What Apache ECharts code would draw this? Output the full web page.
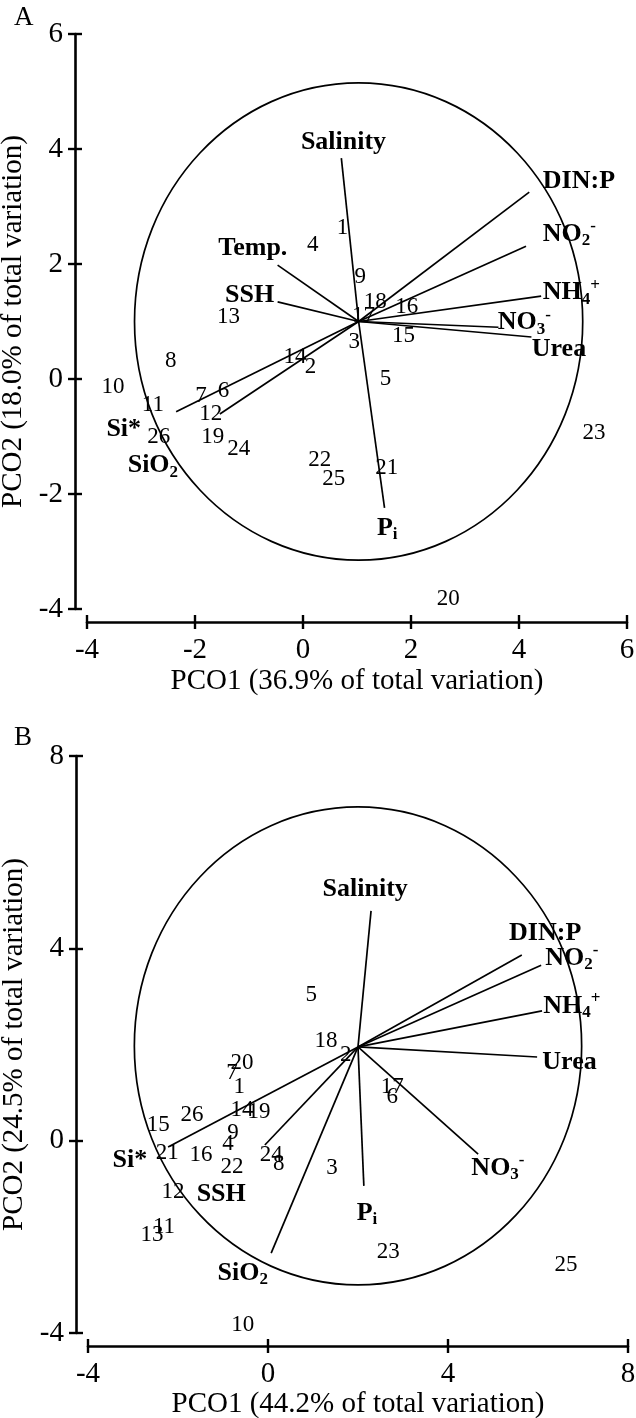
<!DOCTYPE html>
<html>
<head>
<meta charset="utf-8">
<script src="https://cdn.jsdelivr.net/npm/echarts/dist/echarts.min.js"></script>
<style>
  html, body { margin: 0; padding: 0; background: #fff; }
  #main { width: 636px; height: 1418px; }
</style>
</head>
<body>
<div id="main"></div>
<script>
  // ---- panel A ----
  const circleA = [1.03, 1.0, 4.15];       // centre x, centre y, radius
  const originA = [1.03, 1.0];
  const vecNamesA = ['Salinity', 'Temp.', 'SSH', 'Si*', 'SiO{sub|2}', 'P{sub|i}', 'DIN:P',
    'NO{sub|2}{sup|-}', 'NH{sub|4}{sup|+}', 'NO{sub|3}{sup|-}', 'Urea'];
  const vecEndsA = [[0.71, 3.84], [-0.47, 1.98], [-0.47, 1.34], [-2.35, -0.57], [-1.54, -0.61],
    [1.51, -2.24], [4.19, 3.25], [4.13, 2.31], [4.41, 1.44], [3.62, 0.90], [4.23, 0.73]];
  const vecLabelsA = [[0.75, 4.12], [-0.93, 2.28], [-0.99, 1.46], [-3.32, -0.87], [-2.78, -1.50],
    [1.56, -2.59], [5.11, 3.44], [4.93, 2.52], [4.97, 1.50], [4.10, 0.98], [4.74, 0.52]];
  const siteIdsA = ['1','2','3','4','5','6','7','8','9','10','11','12','13','14','15','16','17',
    '18','19','20','21','22','23','24','25','26'];
  const sitePosA = [[0.73, 2.63], [0.14, 0.21], [0.95, 0.64], [0.18, 2.33], [1.53, 0.0],
    [-1.47, -0.21], [-1.89, -0.30], [-2.45, 0.31], [1.06, 1.77], [-3.52, -0.14], [-2.78, -0.45],
    [-1.71, -0.61], [-1.38, 1.08], [-0.15, 0.38], [1.86, 0.75], [1.92, 1.25], [1.12, 1.10],
    [1.34, 1.34], [-1.67, -1.01], [2.69, -3.83], [1.55, -1.55], [0.31, -1.41], [5.39, -0.94],
    [-1.19, -1.22], [0.57, -1.74], [-2.67, -1.01]];

  // ---- panel B ----
  const circleB = [2.0, 1.97, 4.97];
  const originB = [2.0, 1.95];
  const vecNamesB = ['Salinity', 'DIN:P', 'NO{sub|2}{sup|-}', 'NH{sub|4}{sup|+}', 'Urea',
    'NO{sub|3}{sup|-}', 'P{sub|i}', 'SiO{sub|2}', 'SSH', 'Si*'];
  const vecEndsB = [[2.29, 4.78], [5.64, 3.86], [6.07, 3.65], [6.09, 2.70], [5.98, 1.74],
    [4.67, -0.28], [2.13, -0.94], [0.07, -2.34], [-0.07, -0.09], [-2.22, -0.13]];
  const vecLabelsB = [[2.16, 5.23], [6.16, 4.32], [6.75, 3.80], [6.75, 2.80], [6.70, 1.62],
    [5.11, -0.57], [2.20, -1.50], [-0.56, -2.75], [-1.04, -1.11], [-3.07, -0.40]];
  const siteIdsB = siteIdsA;
  const sitePosB = [[-0.64, 1.12], [1.73, 1.78], [1.42, -0.57], [-0.89, -0.07], [0.96, 3.03],
    [2.76, 0.91], [-0.80, 1.41], [0.24, -0.49], [-0.78, 0.16], [-0.56, -3.83], [-2.31, -1.80],
    [-2.11, -1.07], [-2.58, -1.96], [-0.58, 0.64], [-2.44, 0.33], [-1.49, -0.30], [2.76, 1.12],
    [1.29, 2.07], [-0.20, 0.60], [-0.58, 1.61], [-2.24, -0.26], [-0.80, -0.55], [2.67, -2.32],
    [0.07, -0.30], [6.62, -2.59], [-1.69, 0.53]];

  // axis titles
  const xNameA = 'PCO1 (36.9% of total variation)';
  const yNameA = 'PCO2 (18.0% of total variation)';
  const xNameB = 'PCO1 (44.2% of total variation)';
  const yNameB = 'PCO2 (24.5% of total variation)';

  const FONT = 'Liberation Serif';

  function axisPair(dim, gridIndex, min, max, interval, name, gap) {
    const main = {
      type: 'value', gridIndex: gridIndex, min: min, max: max, interval: interval,
      position: dim === 'x' ? 'bottom' : 'left',
      offset: dim === 'x' ? 13 : 12,
      name: name, nameLocation: 'middle', nameGap: gap,
      nameTextStyle: { fontFamily: FONT, fontSize: 29, color: '#000' },
      axisLine: { show: true, onZero: false, lineStyle: { color: '#000', width: 2.6 } },
      axisTick: { show: true, inside: false, length: 7, lineStyle: { color: '#000', width: 2.4 } },
      axisLabel: { fontFamily: FONT, fontSize: 29, color: '#000', margin: dim === 'x' ? 14 : 12 },
      splitLine: { show: false }
    };
    // second copy only to draw the inner half of each tick
    const inner = {
      type: 'value', gridIndex: gridIndex, min: min, max: max, interval: interval,
      position: main.position, offset: main.offset,
      axisLine: { show: false, onZero: false },
      axisTick: { show: true, inside: true, length: 7, lineStyle: { color: '#000', width: 2.4 } },
      axisLabel: { show: false },
      splitLine: { show: false }
    };
    return [main, inner];
  }

  function circleSeries(ai, c) {
    return {
      type: 'custom', xAxisIndex: ai, yAxisIndex: ai, silent: true, z: 2,
      data: [c],
      renderItem: function (params, api) {
        const p = api.coord([api.value(0), api.value(1)]);
        const s = api.size([api.value(2), api.value(2)]);
        return {
          type: 'ellipse',
          shape: { cx: p[0], cy: p[1], rx: s[0], ry: s[1] },
          style: { fill: 'none', stroke: '#000', lineWidth: 1.7 }
        };
      }
    };
  }

  function vectorSeries(ai, origin, ends) {
    return {
      type: 'custom', xAxisIndex: ai, yAxisIndex: ai, silent: true, z: 3,
      data: ends.map(e => [origin[0], origin[1], e[0], e[1]]),
      renderItem: function (params, api) {
        const a = api.coord([api.value(0), api.value(1)]);
        const b = api.coord([api.value(2), api.value(3)]);
        return {
          type: 'line',
          shape: { x1: a[0], y1: a[1], x2: b[0], y2: b[1] },
          style: { stroke: '#000', lineWidth: 1.7 }
        };
      }
    };
  }

  function textSeries(ai, names, pos, bold) {
    return {
      type: 'scatter', xAxisIndex: ai, yAxisIndex: ai, silent: true, z: 4,
      symbolSize: 0,
      itemStyle: { opacity: 1 },
      data: pos.map((p, i) => ({ name: names[i], value: p })),
      label: {
        show: true, position: 'inside', formatter: '{b}', opacity: 1,
        fontFamily: FONT, color: '#000',
        fontSize: bold ? 26 : 23, fontWeight: bold ? 'bold' : 'normal',
        rich: {
          sub: { fontFamily: FONT, fontSize: 17, fontWeight: 'bold', color: '#000', padding: [14, 0, 0, 0] },
          sup: { fontFamily: FONT, fontSize: 17, color: '#000', padding: [0, 0, 14, 0] }
        }
      },
      emphasis: { disabled: true }
    };
  }

  const xA = axisPair('x', 0, -4, 6, 2, xNameA, 45);
  const yA = axisPair('y', 0, -4, 6, 2, yNameA, 34);
  const xB = axisPair('x', 1, -4, 8, 4, xNameB, 39);
  const yB = axisPair('y', 1, -4, 8, 4, yNameB, 34);

  const chart = echarts.init(document.getElementById('main'), null, { renderer: 'canvas' });
  chart.setOption({
    backgroundColor: '#fff',
    animation: false,
    title: [
      { text: 'A', left: 14, top: 4, padding: 0, textStyle: { fontFamily: FONT, fontSize: 27, fontWeight: 'normal', color: '#000' } },
      { text: 'B', left: 14, top: 724, padding: 0, textStyle: { fontFamily: FONT, fontSize: 27, fontWeight: 'normal', color: '#000' } }
    ],
    grid: [
      { left: 87, top: 34, width: 540, height: 575, outerBoundsMode: 'none' },
      { left: 88, top: 756, width: 540, height: 577, outerBoundsMode: 'none' }
    ],
    xAxis: [xA[0], xA[1], xB[0], xB[1]],
    yAxis: [yA[0], yA[1], yB[0], yB[1]],
    series: [
      circleSeries(0, circleA),
      vectorSeries(0, originA, vecEndsA),
      textSeries(0, vecNamesA, vecLabelsA, true),
      textSeries(0, siteIdsA, sitePosA, false),
      circleSeries(2, circleB),
      vectorSeries(2, originB, vecEndsB),
      textSeries(2, vecNamesB, vecLabelsB, true),
      textSeries(2, siteIdsB, sitePosB, false)
    ]
  });
</script>
</body>
</html>
